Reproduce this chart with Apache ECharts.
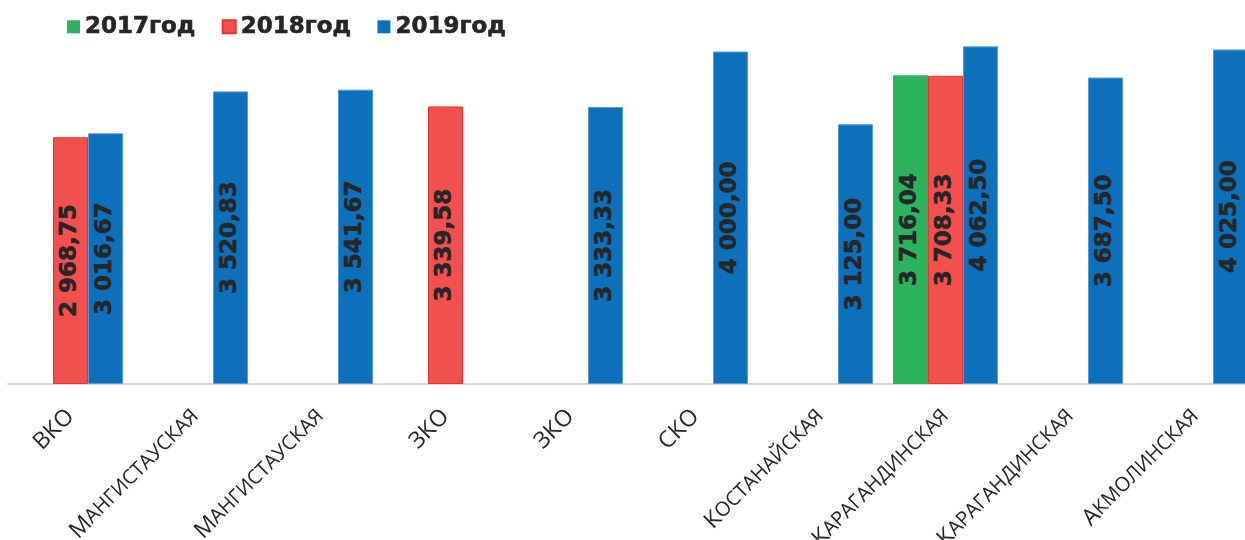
<!DOCTYPE html>
<html>
<head>
<meta charset="utf-8">
<script src="https://cdn.jsdelivr.net/npm/echarts@6/dist/echarts.min.js"></script>
<style>
  html, body { margin: 0; padding: 0; background: #ffffff; }
  #chart { width: 1245px; height: 540px; }
</style>
</head>
<body>
<div id="chart"></div>
<script>
// Regions (category axis)
const categories = ['ВКО', 'Мангистауская', 'Мангистауская', 'ЗКО', 'ЗКО', 'СКО',
  'Костанайская', 'Карагандинская', 'Карагандинская', 'Акмолинская'];

// Values by year; null where a region has no value for that year
const values2017 = [null, null, null, null, null, null, null, 3716.04, null, null];
const values2018 = [2968.75, null, null, 3339.58, null, null, null, 3708.33, null, null];
const values2019 = [3016.67, 3520.83, 3541.67, null, 3333.33, 4000.00, 3125.00, 4062.50, 3687.50, 4025.00];

const seriesNames = ['2017год', '2018год', '2019год'];

function fmtValue(v) {
  const parts = v.toFixed(2).split('.');
  const intPart = parts[0].replace(/\B(?=(\d{3})+(?!\d))/g, ' ');
  return intPart + ',' + parts[1];
}

// Abbreviations stay in full caps; region names are drawn as small caps
function fmtCategory(name) {
  if (name === name.toUpperCase()) return '{big|' + name + '}';
  return '{big|' + name.charAt(0).toUpperCase() + '}{small|' + name.slice(1).toUpperCase() + '}';
}

const labelStyle = {
  show: true,
  position: 'inside',
  rotate: 90,
  fontFamily: 'DejaVu Sans',
  fontWeight: 'bold',
  fontSize: 23,
  color: '#262626',
  textBorderColor: '#262626',
  textBorderWidth: 0.6,
  formatter: p => fmtValue(p.value)
};

const chart = echarts.init(document.getElementById('chart'));
chart.setOption({
  backgroundColor: '#ffffff',
  animation: false,
  legend: {
    top: 10,
    left: 62,
    itemWidth: 13,
    itemHeight: 13,
    itemGap: 26,
    icon: 'rect',
    textStyle: {
      fontFamily: 'DejaVu Sans', fontWeight: 'bold', fontSize: 23, color: '#262626',
      textBorderColor: '#262626', textBorderWidth: 0.6
    },
    data: [
      { name: seriesNames[0] },
      { name: seriesNames[1] },
      { name: seriesNames[2], itemStyle: { borderWidth: 0 } }
    ]
  },
  grid: { left: 8, width: 1250, top: 10, bottom: 156, containLabel: false, outerBoundsMode: 'none' },
  xAxis: {
    type: 'category',
    data: categories,
    axisLine: { lineStyle: { color: '#d9d9d9', width: 2 } },
    axisTick: { show: false },
    axisLabel: {
      interval: 0,
      rotate: 45,
      margin: 29,
      color: '#262626',
      formatter: fmtCategory,
      rich: {
        big: { fontFamily: 'Open Sans', fontSize: 23, color: '#262626' },
        small: { fontFamily: 'Open Sans', fontSize: 20, color: '#262626' }
      }
    }
  },
  yAxis: {
    type: 'value',
    min: 0,
    max: 4500,
    show: false,
    splitLine: { show: false }
  },
  series: [
    {
      name: seriesNames[0], type: 'bar', data: values2017,
      barGap: '0%', barCategoryGap: '16%',
      itemStyle: { color: '#2db35d' },
      label: labelStyle
    },
    {
      name: seriesNames[1], type: 'bar', data: values2018,
      barGap: '0%', barCategoryGap: '16%',
      itemStyle: { color: '#f24f4f', borderColor: '#e8322f', borderWidth: 1 },
      label: labelStyle
    },
    {
      name: seriesNames[2], type: 'bar', data: values2019,
      barGap: '0%', barCategoryGap: '16%',
      itemStyle: { color: '#0c70ba', borderColor: '#5b9bd5', borderWidth: 1 },
      label: labelStyle
    }
  ]
});
</script>
</body>
</html>
